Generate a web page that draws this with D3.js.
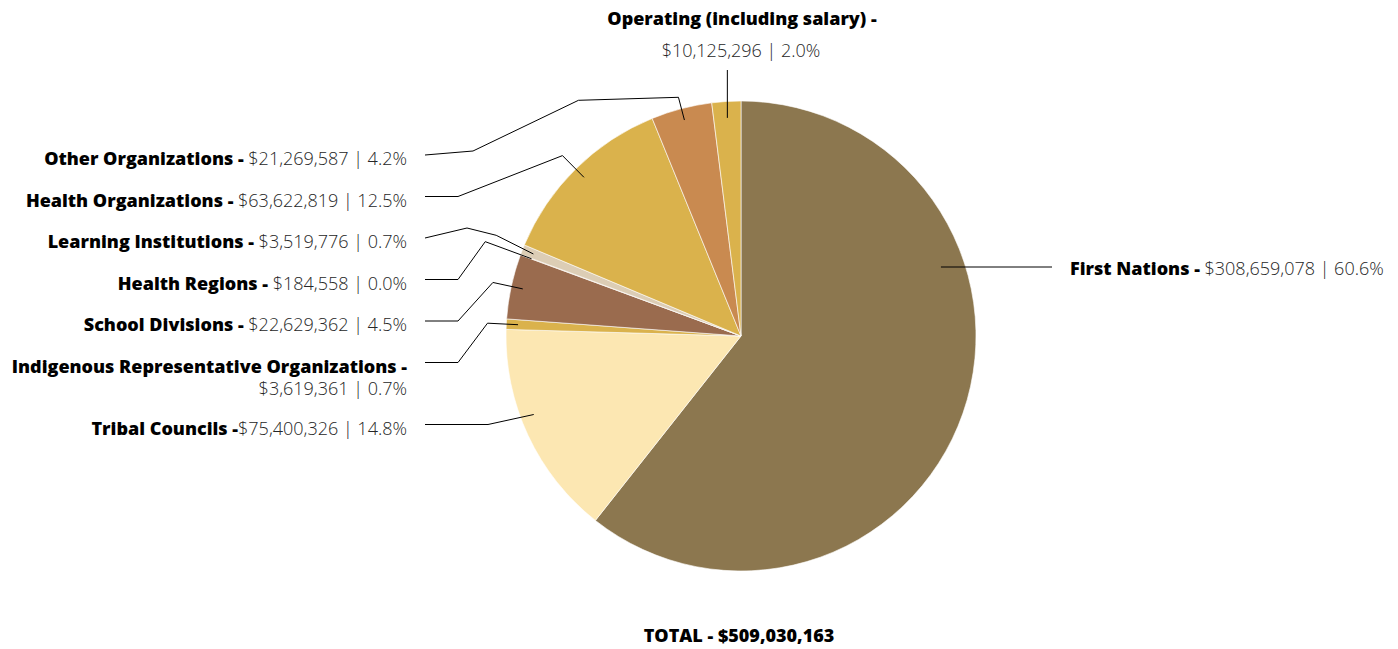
<!DOCTYPE html>
<html>
<head>
<meta charset="utf-8">
<script src="https://cdn.jsdelivr.net/npm/d3@7"></script>
<style>
  html, body { margin: 0; padding: 0; background: #fff; }
  svg { display: block; }
  .lbl-b { font-family: "Open Sans", Lato, sans-serif; font-weight: 800; fill: #000; }
  .lbl-v { font-family: "Open Sans", Lato, sans-serif; font-weight: 300; fill: #262626; }
</style>
</head>
<body>
<svg id="chart" width="1398" height="649"></svg>
<script>
// ---- data ----
const categories = [
  "First Nations",
  "Tribal Councils",
  "Indigenous Representative Organizations",
  "School Divisions",
  "Health Regions",
  "Learning Institutions",
  "Health Organizations",
  "Other Organizations",
  "Operating (including salary)"
];
const amounts = [308659078, 75400326, 3619361, 22629362, 184558, 3519776, 63622819, 21269587, 10125296];
const percentLabels = ["60.6%", "14.8%", "0.7%", "4.5%", "0.0%", "0.7%", "12.5%", "4.2%", "2.0%"];
const sliceColors = ["#8C774F", "#FCE7B2", "#DAB24C", "#9A6B4E", "#C98A50", "#DCCDB5", "#DAB24C", "#C98A50", "#DAB24C"];
const totalLabel = "TOTAL - $509,030,163";

// ---- layout ----
const cx = 741, cy = 336, R = 235;
const FS = 18;
const svg = d3.select("#chart");
const g = svg.append("g").attr("transform", `translate(${cx},${cy})`);

const fmt = d3.format("$,");
const pie = d3.pie().sort(null).value(d => d);
const arcs = pie(amounts);
const arc = d3.arc().innerRadius(0).outerRadius(R);

g.selectAll("path.slice")
  .data(arcs)
  .join("path")
  .attr("class", "slice")
  .attr("d", arc)
  .attr("fill", (d, i) => sliceColors[i])
  .attr("stroke", "#fff")
  .attr("stroke-width", 0.6);

function polar(angle, r) {
  return [Math.sin(angle) * r, -Math.cos(angle) * r];
}
const mid = d => (d.startAngle + d.endAngle) / 2;

const line = d3.line();
const lines = svg.append("g").attr("transform", `translate(${cx},${cy})`)
  .attr("fill", "none").attr("stroke", "#000").attr("stroke-width", 1);
const labels = svg.append("g");

// side of each label from its mid-angle
const side = arcs.map(d => {
  const m = mid(d) * 180 / Math.PI;
  if (m < 180) return "right";
  if (m > 354) return "top";
  return "left";
});

// left labels stacked from top, in reverse data order
const leftIdx = d3.range(arcs.length).filter(i => side[i] === "left").reverse();
const leftRight = 407;           // right edge of left label text
const step = 41.5;
let yCursor = 158;
const elbowK = { "Learning Institutions": 1.12, "Health Regions": 1.16, "Other Organizations": 1.05 };

leftIdx.forEach(i => {
  const d = arcs[i];
  const name = categories[i];
  const value = `${fmt(amounts[i])} | ${percentLabels[i]}`;
  const twoLine = name.length > 30;
  const yText = yCursor;
  const t = labels.append("text").attr("text-anchor", "end").attr("font-size", FS)
    .attr("dominant-baseline", "central").attr("x", leftRight).attr("y", yText);
  if (twoLine) {
    t.append("tspan").attr("class", "lbl-b").text(name + " -");
    labels.append("text").attr("class", "lbl-v").attr("text-anchor", "end")
      .attr("font-size", FS).attr("dominant-baseline", "central")
      .attr("x", leftRight).attr("y", yText + 22).text(value);
  } else {
    const sep = name === "Tribal Councils" ? " -" : " - ";
    t.append("tspan").attr("class", "lbl-b").text(name + sep);
    t.append("tspan").attr("class", "lbl-v").text(value);
  }
  // connector
  const yl = yText - 3 - cy;
  const x0 = leftRight + 18 - cx, x1 = leftRight + 51 - cx;
  const k = elbowK[name] || 1.08;
  const e = polar(mid(d), R * k);
  const s = polar(mid(d), R * 0.95);
  let pts;
  if (name === "Tribal Councils") {
    pts = [[x0, yl], [x1 + 30, yl], [s[0] - 5, s[1] - 16]];
  } else if (name === "Other Organizations") {
    pts = [[x0, yl], [x1 + 15, yl - 4], [e[0] - 100, e[1] + 3], e, s];
  } else if (name === "Learning Institutions") {
    pts = [[x0, yl], [x1 + 9, yl - 10], [e[0], e[1] - 4], s];
  } else {
    pts = [[x0, yl], [x1, yl], e, s];
  }
  lines.append("path").attr("d", line(pts));
  yCursor += twoLine ? step + 20.5 : step;
});

// right label(s)
arcs.forEach((d, i) => {
  if (side[i] !== "right") return;
  const yText = 268;
  const t = labels.append("text").attr("x", 1070).attr("y", yText)
    .attr("font-size", FS).attr("dominant-baseline", "central");
  t.append("tspan").attr("class", "lbl-b").text(categories[i] + " - ");
  t.append("tspan").attr("class", "lbl-v").text(`${fmt(amounts[i])} | ${percentLabels[i]}`);
  const yl = yText - 1 - cy;
  const r0 = R * 0.9;
  const xs = Math.sqrt(r0 * r0 - yl * yl);
  lines.append("path").attr("d", line([[xs, yl], [1052 - cx, yl]]));
});

// top label(s)
arcs.forEach((d, i) => {
  if (side[i] !== "top") return;
  labels.append("text").attr("class", "lbl-b").attr("text-anchor", "middle")
    .attr("font-size", FS).attr("dominant-baseline", "central")
    .attr("x", cx + 1).attr("y", 18).text(categories[i] + " -");
  labels.append("text").attr("class", "lbl-v").attr("text-anchor", "middle")
    .attr("font-size", FS).attr("dominant-baseline", "central")
    .attr("x", cx).attr("y", 50).text(`${fmt(amounts[i])} | ${percentLabels[i]}`);
  const s = polar(mid(d), R * 0.93);
  lines.append("path").attr("d", line([[s[0], s[1]], [s[0], 70 - cy]]));
});

// total
svg.append("text").attr("class", "lbl-b").attr("text-anchor", "middle")
  .attr("font-size", FS).attr("dominant-baseline", "central")
  .attr("x", 739).attr("y", 635).text(totalLabel);
</script>
</body>
</html>
